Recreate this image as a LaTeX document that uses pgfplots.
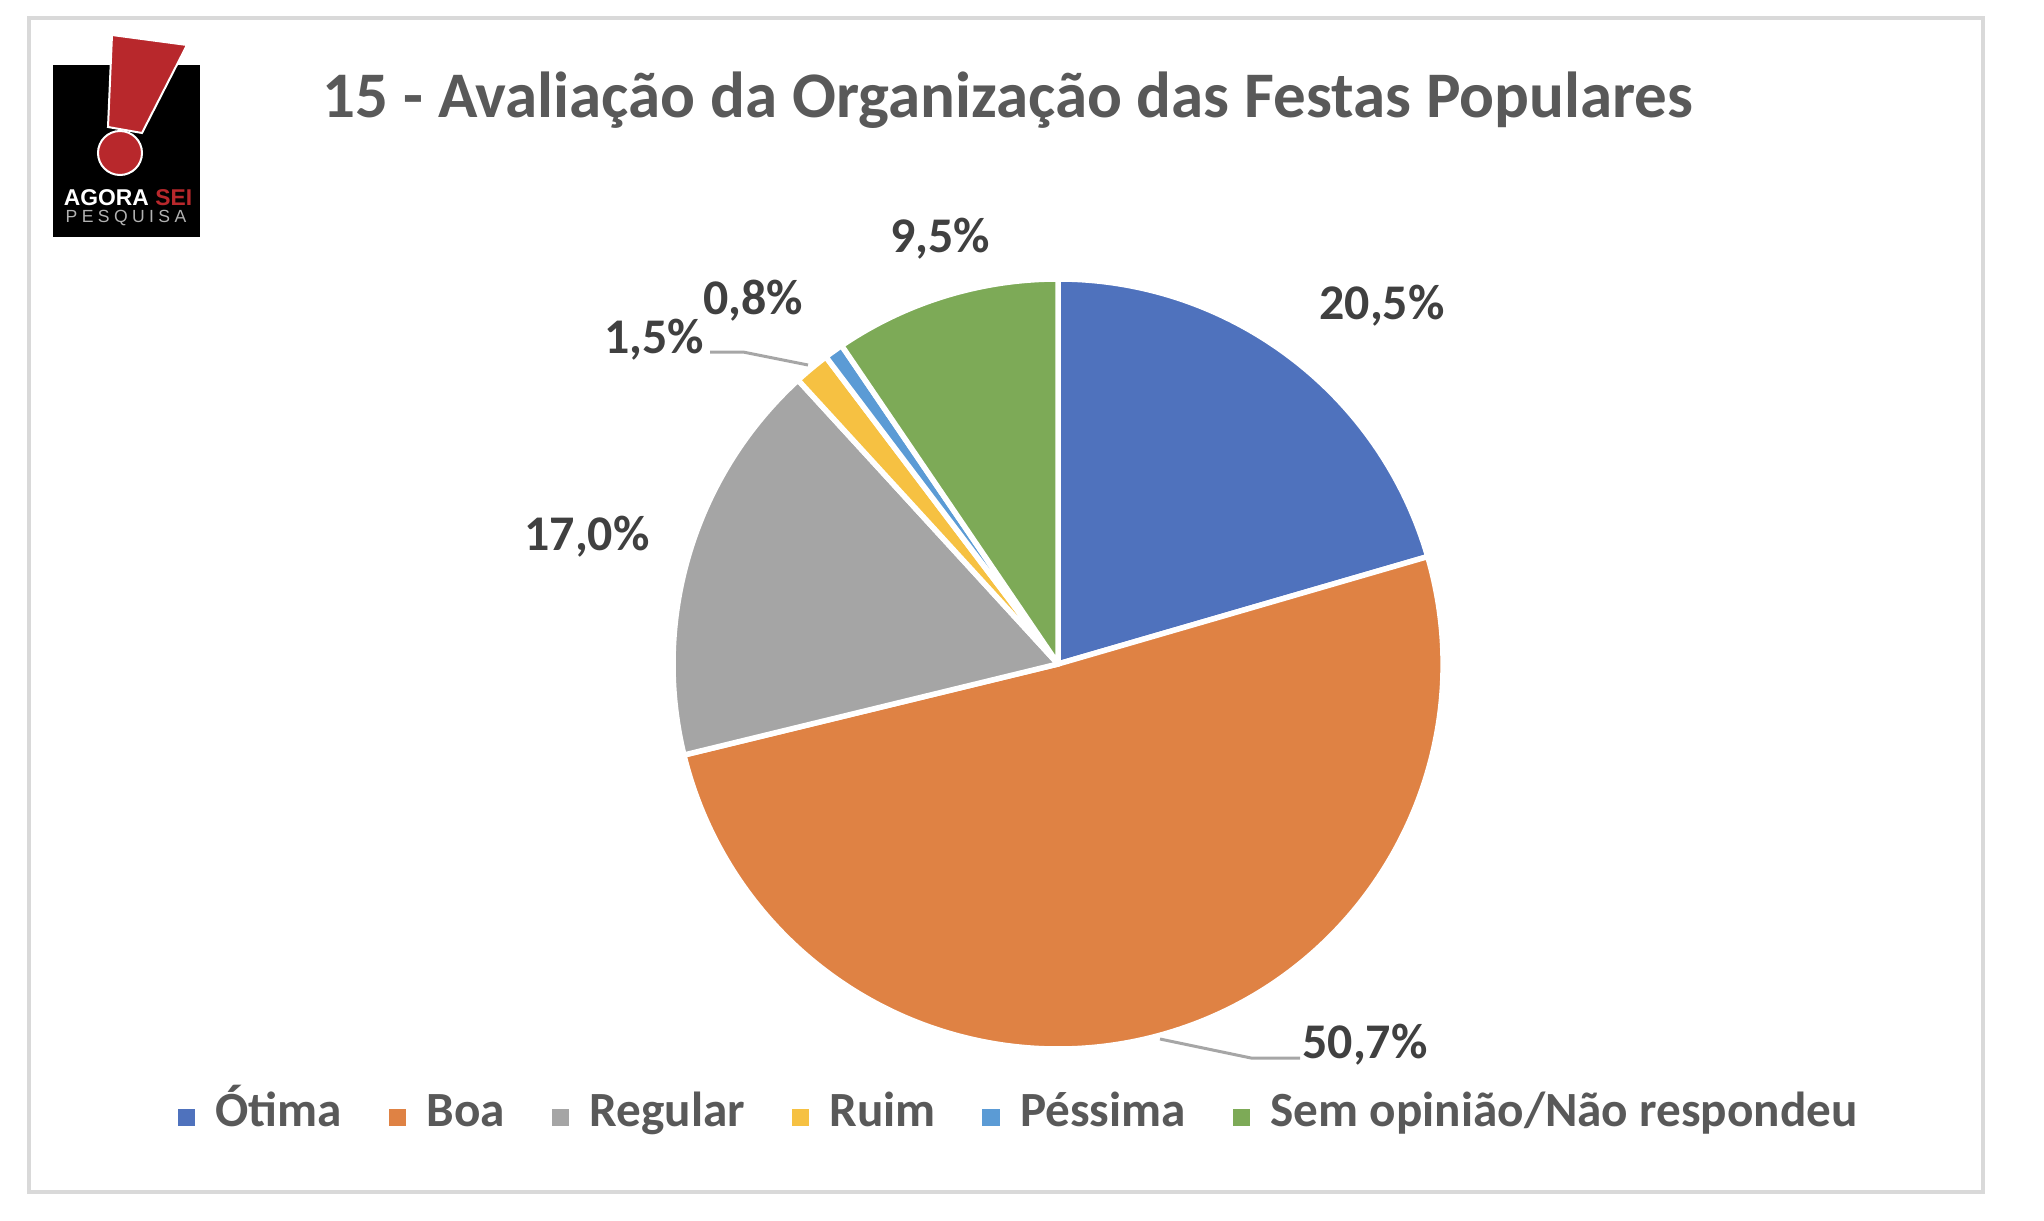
\documentclass[border=0pt]{standalone}
\usepackage{pgfplots}
\pgfplotsset{compat=1.18}
\usepackage{pgfplotstable}
\usepackage{fontspec}
\setmainfont{Carlito}
\newfontfamily\logofont{Liberation Sans}
\definecolor{pc0}{HTML}{4F72BD}
\definecolor{pc1}{HTML}{DF8244}
\definecolor{pc2}{HTML}{A5A5A5}
\definecolor{pc3}{HTML}{F6C142}
\definecolor{pc4}{HTML}{5B9BD5}
\definecolor{pc5}{HTML}{7DAA57}
\definecolor{titlegray}{HTML}{595959}
\definecolor{labelgray}{HTML}{404040}
\definecolor{framegray}{HTML}{D9D9D9}
\definecolor{logored}{HTML}{B8282C}
\begin{document}
\begin{tikzpicture}
\pgfplotstableread[col sep=comma]{
label,value
Otima,20.5
Boa,50.7
Regular,17.0
Ruim,1.5
Pessima,0.8
Sem opiniao,9.5
}\piedata
\xdef\cumangle{90}
\foreach \i in {0,...,5}{%
  \pgfplotstablegetelem{\i}{value}\of\piedata
  \pgfmathsetmacro\endang{\cumangle-3.6*\pgfplotsretval}%
  \expandafter\xdef\csname sa\i\endcsname{\cumangle}%
  \expandafter\xdef\csname ea\i\endcsname{\endang}%
  \xdef\cumangle{\endang}%
}
\begin{axis}[
  width=20.44cm, height=12.2cm, scale only axis,
  xmin=0, xmax=2044, ymin=0, ymax=1220,
  hide axis, clip=false,
  legend columns=6,
  legend cell align=left,
  legend style={at={(0.4998,0.084)}, anchor=center, draw=none, fill=none,
    font=\fontsize{14}{16}\selectfont\bfseries, text=titlegray,
    nodes={text height=1.6ex, text depth=0.5ex},
    /tikz/every even column/.append style={column sep=4.05mm},
    /tikz/every odd column/.append style={column sep=1.4mm}},
]
\path (axis cs:0,0) rectangle (axis cs:2044,1220);
% frame
\draw[framegray, line width=0.35mm] (axis cs:29,28) rectangle (axis cs:1983,1202);
% pie wedges
\pgfplotsinvokeforeach{0,...,5}{
  \edef\temp{\noexpand\fill[fill=pc#1, draw=white, line width=0.55mm, line join=round]
    (axis cs:1058,556) -- ([shift={(\csname sa#1\endcsname:38.5mm)}]axis cs:1058,556)
    arc[start angle=\csname sa#1\endcsname, end angle=\csname ea#1\endcsname, radius=38.5mm] -- cycle;}
  \temp
}
% legend
\addlegendimage{only marks, mark=square*, mark size=0.8mm, mark options={draw=pc0, fill=pc0}}
\addlegendentry{Ótima}
\addlegendimage{only marks, mark=square*, mark size=0.8mm, mark options={draw=pc1, fill=pc1}}
\addlegendentry{Boa}
\addlegendimage{only marks, mark=square*, mark size=0.8mm, mark options={draw=pc2, fill=pc2}}
\addlegendentry{Regular}
\addlegendimage{only marks, mark=square*, mark size=0.8mm, mark options={draw=pc3, fill=pc3}}
\addlegendentry{Ruim}
\addlegendimage{only marks, mark=square*, mark size=0.8mm, mark options={draw=pc4, fill=pc4}}
\addlegendentry{Péssima}
\addlegendimage{only marks, mark=square*, mark size=0.8mm, mark options={draw=pc5, fill=pc5}}
\addlegendentry{Sem opinião/Não respondeu}
% title
\node[text=titlegray, font=\fontsize{18.5}{22}\selectfont\bfseries] at (axis cs:1008,1120) {15 - Avaliação da Organização das Festas Populares};
% data labels
\tikzset{dl/.style={text=labelgray, font=\fontsize{14.2}{17}\selectfont\bfseries}}
\node[dl] at (axis cs:1382,914) {20,5\%};
\node[dl] at (axis cs:1365,175) {50,7\%};
\node[dl] at (axis cs:587,683) {17,0\%};
\node[dl] at (axis cs:654,880) {1,5\%};
\node[dl] at (axis cs:753,919) {0,8\%};
\node[dl] at (axis cs:940,981) {9,5\%};
% leader lines
\draw[gray!70, line width=0.3mm] (axis cs:1160,181) -- (axis cs:1251,162) -- (axis cs:1300,162);
\draw[gray!70, line width=0.3mm] (axis cs:710,868) -- (axis cs:743,868) -- (axis cs:808,855);
% logo
\fill[black] (axis cs:53,983) rectangle (axis cs:200,1155);
\filldraw[fill=logored, draw=white, line width=0.2mm] (axis cs:112,1185) -- (axis cs:187,1175) -- (axis cs:142,1087) -- (axis cs:108,1093) -- cycle;
\filldraw[fill=logored, draw=white, line width=0.2mm] (axis cs:120,1067) circle[radius=2.2mm];
\node[font=\logofont\bfseries\fontsize{6.5}{7}\selectfont, inner sep=0] at (axis cs:128,1022) {\textcolor{white}{AGORA} \textcolor{logored}{SEI}};
\node[font=\logofont\fontsize{5}{6}\selectfont\addfontfeature{LetterSpace=25}, text=gray!60, inner sep=0] at (axis cs:126,1002) {PESQUISA};
\end{axis}
\end{tikzpicture}
\end{document}
